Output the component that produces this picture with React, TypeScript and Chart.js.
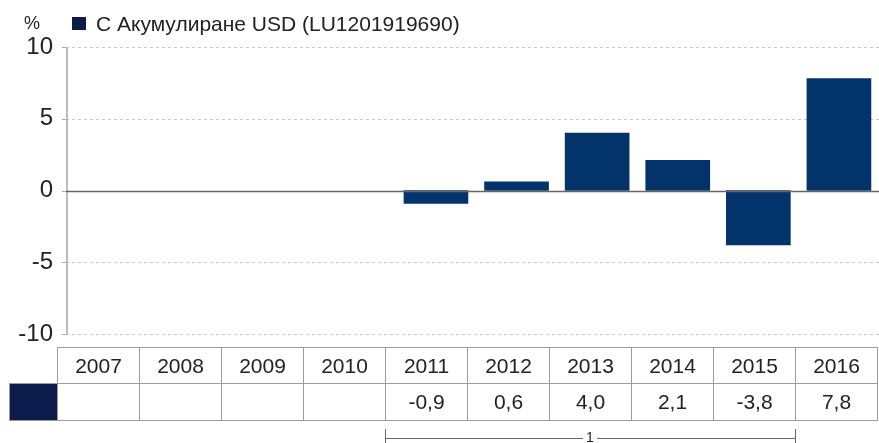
import React, { useEffect, useRef } from "react";
import { Chart, registerables } from "chart.js";

Chart.register(...registerables);

const categories: string[] = ["2007", "2008", "2009", "2010", "2011", "2012", "2013", "2014", "2015", "2016"];
const values: (number | null)[] = [null, null, null, null, -0.9, 0.6, 4.0, 2.1, -3.8, 7.8];
const yTicks: number[] = [-10, -5, 0, 5, 10];
const seriesLabel = "С Акумулиране USD (LU1201919690)";
const unitLabel = "%";
const bracketLabel = "1";
const bracketFrom = "2011";
const bracketTo = "2015";

const BAR = "#02346b";
const SWATCH = "#0b1b4c";
const FONT = "'Liberation Sans', Arial, Helvetica, sans-serif";

const fmt = (v: number | null) => (v === null ? "" : v.toFixed(1).replace(".", ","));

const gridPlugin = {
  id: "customGrid",
  beforeDatasetsDraw(chart: any) {
    const { ctx, chartArea, scales } = chart;
    const y = scales.y;
    ctx.save();
    yTicks.forEach((v) => {
      const py = Math.round(y.getPixelForValue(v)) + 0.5;
      if (v !== 0) {
        ctx.strokeStyle = "#c8c8c8";
        ctx.lineWidth = 1;
        ctx.setLineDash([3, 3]);
        ctx.beginPath();
        ctx.moveTo(chartArea.left, py);
        ctx.lineTo(chartArea.right, py);
        ctx.stroke();
      }
      ctx.setLineDash([]);
      ctx.strokeStyle = "#aaaaaa";
      ctx.lineWidth = 1;
      ctx.beginPath();
      ctx.moveTo(chartArea.left - 4, py);
      ctx.lineTo(chartArea.left, py);
      ctx.stroke();
    });
    ctx.setLineDash([]);
    ctx.strokeStyle = "#bdbdbd";
    ctx.lineWidth = 2;
    ctx.beginPath();
    ctx.moveTo(chartArea.left + 1, y.getPixelForValue(10));
    ctx.lineTo(chartArea.left + 1, y.getPixelForValue(-10));
    ctx.stroke();
    ctx.restore();
  },
  afterDatasetsDraw(chart: any) {
    const { ctx, chartArea, scales } = chart;
    const py = Math.round(scales.y.getPixelForValue(0)) + 0.5;
    ctx.save();
    ctx.strokeStyle = "#666666";
    ctx.lineWidth = 1.5;
    ctx.beginPath();
    ctx.moveTo(chartArea.left, py);
    ctx.lineTo(chartArea.right, py);
    ctx.stroke();
    ctx.restore();
  },
};

export default function App() {
  const canvasRef = useRef<HTMLCanvasElement | null>(null);

  useEffect(() => {
    if (!canvasRef.current) return;
    const points = values
      .map((v, i) => ({ x: i, y: v }))
      .filter((p) => p.y !== null);
    const chart = new Chart(canvasRef.current, {
      type: "bar",
      data: {
        datasets: [
          {
            label: seriesLabel,
            data: points as any,
            backgroundColor: BAR,
            borderWidth: 0,
            barThickness: 64,
          },
        ],
      },
      options: {
        responsive: false,
        animation: false,
        layout: { padding: { top: 47, bottom: 109, left: 0, right: 0 } },
        plugins: { legend: { display: false }, tooltip: { enabled: false } },
        scales: {
          x: { type: "linear", min: -0.59, max: 9.497, offset: false, bounds: "ticks", display: false },
          y: {
            min: -10,
            max: 10,
            ticks: {
              stepSize: 5,
              color: "#222",
              padding: 5,
              font: { family: FONT, size: 24 },
            },
            grid: { display: false, drawTicks: true, tickLength: 8 },
            border: { display: false },
            afterFit: (s: any) => {
              s.width = 66;
            },
          },
        },
      },
      plugins: [gridPlugin],
    });
    return () => chart.destroy();
  }, []);

  const colW = 82;
  const tableLeft = 57;
  const bFrom = tableLeft + categories.indexOf(bracketFrom) * colW;
  const bTo = tableLeft + (categories.indexOf(bracketTo) + 1) * colW;

  const cell: React.CSSProperties = {
    border: "1px solid #9c9c9c",
    width: colW - 1,
    textAlign: "center",
    padding: 0,
    color: "#222",
  };

  return (
    <div style={{ position: "fixed", left: 0, top: 0, width: 879, height: 443, background: "#fff", fontFamily: FONT, overflow: "hidden" }}>
      <canvas ref={canvasRef} width={879} height={443} style={{ position: "absolute", left: 0, top: 0 }} />
      <div style={{ position: "absolute", left: 24, top: 14, fontSize: 18, lineHeight: "18px", color: "#222" }}>{unitLabel}</div>
      <div style={{ position: "absolute", left: 72, top: 17, width: 14, height: 13, background: SWATCH }} />
      <div style={{ position: "absolute", left: 96, top: 14, fontSize: 21, lineHeight: "20px", color: "#222", whiteSpace: "nowrap" }}>{seriesLabel}</div>
      <table style={{ position: "absolute", left: 9, top: 347, borderCollapse: "collapse", fontSize: 21, tableLayout: "fixed" }}>
        <tbody>
          <tr style={{ height: 36 }}>
            <td style={{ width: 47, padding: 0, border: "none" }} />
            {categories.map((c) => (
              <td key={c} style={cell}>{c}</td>
            ))}
          </tr>
          <tr style={{ height: 37 }}>
            <td style={{ width: 47, padding: 0, border: "1px solid #9c9c9c", background: SWATCH }} />
            {values.map((v, i) => (
              <td key={categories[i]} style={cell}>{fmt(v)}</td>
            ))}
          </tr>
        </tbody>
      </table>
      <div style={{ position: "absolute", left: bFrom, top: 438, width: bTo - bFrom, height: 1, background: "#666" }} />
      <div style={{ position: "absolute", left: bFrom, top: 429, width: 1, height: 14, background: "#666" }} />
      <div style={{ position: "absolute", left: bTo, top: 429, width: 1, height: 14, background: "#666" }} />
      <div style={{ position: "absolute", left: (bFrom + bTo) / 2 - 7, top: 430, width: 14, fontSize: 14, lineHeight: "14px", textAlign: "center", background: "#fff", color: "#222" }}>{bracketLabel}</div>
    </div>
  );
}
